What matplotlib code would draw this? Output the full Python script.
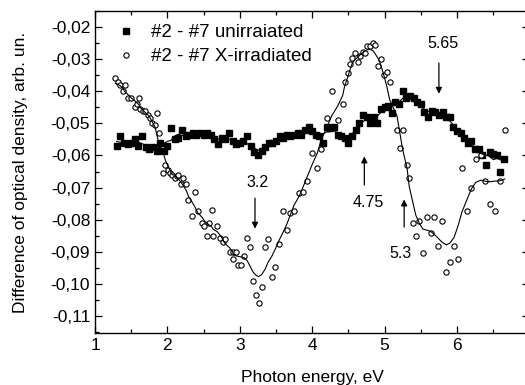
import matplotlib
matplotlib.use("Agg")
from matplotlib import pyplot as plt
from matplotlib.ticker import MultipleLocator, FuncFormatter
import numpy as np
import pandas as pd

plt.rcParams['font.family'] = ['Liberation Sans', 'DejaVu Sans']

# #2 - #7 unirradiated (filled squares)
e_unirr = [1.30, 1.35, 1.40, 1.45, 1.50, 1.55, 1.60, 1.65, 1.70, 1.75, 1.80, 1.85, 1.90, 1.95,
           2.00, 2.05, 2.10, 2.15, 2.20, 2.25, 2.30, 2.35, 2.40, 2.45,
           2.50, 2.55, 2.60, 2.65, 2.70, 2.75, 2.80, 2.85, 2.90, 2.95,
           3.00, 3.05, 3.10, 3.15, 3.20, 3.25, 3.30, 3.35, 3.40, 3.45,
           3.50, 3.55, 3.60, 3.65, 3.70, 3.75, 3.80, 3.85, 3.90, 3.95,
           4.00, 4.05, 4.10, 4.15, 4.20, 4.25, 4.30, 4.35, 4.40, 4.45,
           4.50, 4.55, 4.60, 4.65, 4.70, 4.75, 4.80, 4.85, 4.90, 4.95,
           5.00, 5.05, 5.10, 5.15, 5.20, 5.25, 5.30, 5.35, 5.40, 5.45,
           5.50, 5.55, 5.60, 5.65, 5.70, 5.75, 5.80, 5.85, 5.90, 5.95,
           6.00, 6.05, 6.10, 6.15, 6.20, 6.25, 6.30, 6.35, 6.40, 6.45,
           6.50, 6.55, 6.60, 6.65]
d_unirr = [-0.057, -0.054, -0.056, -0.0565, -0.056, -0.055, -0.057, -0.054, -0.0575, -0.058, -0.0575, -0.0585, -0.056, -0.0585,
           -0.057, -0.0515, -0.055, -0.0545, -0.052, -0.054, -0.0535, -0.053, -0.0535, -0.053,
           -0.0535, -0.053, -0.0535, -0.055, -0.0565, -0.0545, -0.055, -0.053, -0.0555, -0.0565,
           -0.056, -0.0555, -0.054, -0.057, -0.059, -0.060, -0.0585, -0.0575, -0.056, -0.056,
           -0.0555, -0.054, -0.0545, -0.0535, -0.054, -0.0535, -0.053, -0.0535, -0.052, -0.051,
           -0.0525, -0.0535, -0.054, -0.056, -0.051, -0.0515, -0.051, -0.0535, -0.054, -0.0545,
           -0.056, -0.054, -0.052, -0.050, -0.0475, -0.048, -0.050, -0.048, -0.050, -0.0455,
           -0.045, -0.0445, -0.0468, -0.0435, -0.044, -0.040, -0.042, -0.0415, -0.042, -0.0435,
           -0.044, -0.0465, -0.048, -0.046, -0.0465, -0.0475, -0.0465, -0.048, -0.048, -0.051,
           -0.0525, -0.053, -0.0545, -0.056, -0.0555, -0.058, -0.058, -0.060, -0.063, -0.059,
           -0.0595, -0.060, -0.065, -0.061]

# #2 - #7 X-irradiated (open circles)
e_xirr = [1.28, 1.32, 1.35, 1.39, 1.41, 1.46, 1.50, 1.55, 1.58, 1.61, 1.62, 1.66, 1.69, 1.73, 1.76,
          1.79, 1.83, 1.85, 1.88, 1.94, 1.97, 2.01, 2.04, 2.06, 2.10, 2.13, 2.15, 2.19, 2.22, 2.26,
          2.29, 2.34, 2.38, 2.42, 2.48, 2.51, 2.55, 2.58, 2.61, 2.63, 2.69, 2.73, 2.77, 2.80, 2.86,
          2.90, 2.91, 2.95, 2.98, 3.01, 3.06, 3.10, 3.14, 3.18, 3.22, 3.26, 3.30, 3.35, 3.39, 3.44,
          3.49, 3.54, 3.60, 3.65, 3.70, 3.75, 3.82, 3.87, 3.93, 4.00, 4.07, 4.12, 4.20, 4.27, 4.35,
          4.42, 4.45, 4.49, 4.52, 4.55, 4.59, 4.63, 4.66, 4.70, 4.73, 4.76, 4.80, 4.84, 4.87, 4.91,
          4.95, 4.99, 5.03, 5.07, 5.17, 5.21, 5.25, 5.31, 5.34, 5.39, 5.43, 5.48, 5.53, 5.58, 5.64,
          5.68, 5.74, 5.79, 5.85, 5.90, 5.96, 6.01, 6.07, 6.14, 6.20, 6.26, 6.33, 6.39, 6.46, 6.52,
          6.59, 6.66]
d_xirr = [-0.036, -0.037, -0.038, -0.040, -0.038, -0.042, -0.042, -0.045, -0.044, -0.042, -0.0456, -0.046, -0.046, -0.0474, -0.0484,
          -0.050, -0.0505, -0.0468, -0.053, -0.0655, -0.063, -0.0645, -0.0655, -0.066, -0.067, -0.0665, -0.066, -0.069, -0.067, -0.069,
          -0.074, -0.079, -0.0713, -0.0773, -0.081, -0.082, -0.085, -0.081, -0.077, -0.085, -0.082, -0.0858, -0.087, -0.086, -0.090,
          -0.090, -0.0923, -0.090, -0.094, -0.094, -0.0913, -0.0856, -0.0885, -0.099, -0.1035, -0.106, -0.101, -0.0885, -0.086, -0.098,
          -0.0948, -0.0876, -0.0773, -0.0832, -0.078, -0.0773, -0.0717, -0.0714, -0.068, -0.0593, -0.064, -0.058, -0.0483, -0.040, -0.049,
          -0.044, -0.037, -0.0343, -0.0315, -0.0297, -0.028, -0.031, -0.029, -0.0278, -0.028, -0.026, -0.026, -0.025, -0.0256, -0.032,
          -0.030, -0.035, -0.034, -0.037, -0.052, -0.0577, -0.052, -0.063, -0.067, -0.081, -0.085, -0.0804, -0.0904, -0.0792, -0.0842,
          -0.0792, -0.0882, -0.0804, -0.0963, -0.0932, -0.0882, -0.0923, -0.064, -0.0773, -0.070, -0.061, -0.060, -0.068, -0.0751, -0.0773,
          -0.068, -0.052]

# peak labels: (text, text x, text y, arrow x, arrow tail y, arrow head y)
peak_labels = ["3.2", "4.75", "5.3", "5.65"]
peak_text_x = [3.25, 4.77, 5.22, 5.81]
peak_text_y = [-0.0683, -0.0745, -0.0904, -0.0250]
peak_arrow_x = [3.21, 4.72, 5.27, 5.75]
peak_tail_y = [-0.0733, -0.0692, -0.0823, -0.0312]
peak_head_y = [-0.0828, -0.0603, -0.0737, -0.0408]

# smoothing (adjacent averaging, applied twice for the irradiated one)
s_unirr = pd.Series(d_unirr).rolling(5, center=True, min_periods=1).mean()
s_xirr = pd.Series(d_xirr).rolling(5, center=True, min_periods=1).mean()
s_xirr = s_xirr.rolling(5, center=True, min_periods=1).mean()

fig = plt.figure(figsize=(5.25, 3.85), dpi=100)
ax = fig.add_axes([95 / 525, 1 - 333 / 385, 434.4 / 525, 322 / 385])

ax.plot(e_unirr, d_unirr, 's', ms=3.7, color='black', mec='black', label='#2 - #7 unirraiated')
ax.plot(e_xirr, d_xirr, 'o', ms=3.8, mfc='white', mec='black', mew=0.8, label='#2 - #7 X-irradiated')
ax.plot(e_unirr, s_unirr, '-', color='black', lw=0.8)
ax.plot(e_xirr, s_xirr, '-', color='black', lw=0.8)

for lab, tx, ty, axx, t0, t1 in zip(peak_labels, peak_text_x, peak_text_y, peak_arrow_x, peak_tail_y, peak_head_y):
    ax.annotate('', xy=(axx, t1), xytext=(axx, t0),
                arrowprops=dict(arrowstyle='-|>', color='black', lw=0.9, mutation_scale=9, shrinkA=0, shrinkB=0))
    ax.text(tx, ty, lab, fontsize=11.5, ha='center', va='center')

ax.set_xlim(1, 7)
ax.set_ylim(-0.1153, -0.015)
ax.xaxis.set_major_locator(MultipleLocator(1))
ax.xaxis.set_minor_locator(MultipleLocator(0.5))
ax.yaxis.set_major_locator(MultipleLocator(0.01))
ax.yaxis.set_minor_locator(MultipleLocator(0.005))
ax.yaxis.set_major_formatter(FuncFormatter(lambda v, p: ('%.2f' % v).replace('.', ',')))
ax.tick_params(which='both', direction='in', top=True, right=True, labelsize=12.5, width=0.9)
ax.tick_params(which='major', length=5)
ax.tick_params(which='minor', length=3)
for sp in ax.spines.values():
    sp.set_linewidth(1.0)

ax.set_xlabel('Photon energy, eV', fontsize=12.5, labelpad=12)
ax.set_ylabel('Difference of optical density, arb. un.', fontsize=12.5, labelpad=16)

ax.legend(loc='upper left', bbox_to_anchor=(0.0214, 0.982), borderaxespad=0, frameon=False,
          fontsize=13.5, handletextpad=0.6, labelspacing=0.35, handlelength=1.5)

fig.savefig('out.png', dpi=100)
